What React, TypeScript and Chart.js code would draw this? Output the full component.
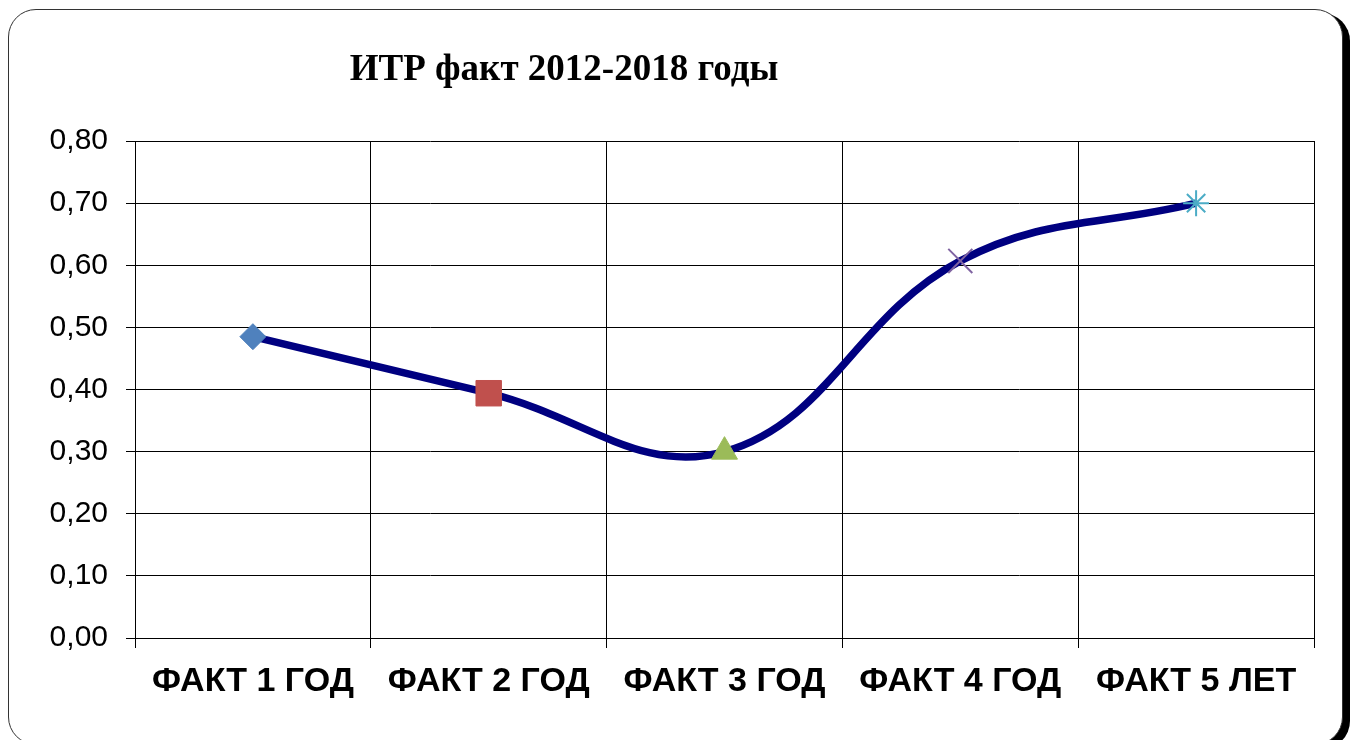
import React, { useEffect, useRef } from "react";
import { Chart, registerables } from "chart.js";

Chart.register(...registerables);

const titleText = "ИТР факт 2012-2018 годы";
const categories = ["ФАКТ 1 ГОД", "ФАКТ 2 ГОД", "ФАКТ 3 ГОД", "ФАКТ 4 ГОД", "ФАКТ 5 ЛЕТ"];
const values = [0.485, 0.394, 0.3, 0.607, 0.7];
const yTicks = [0, 0.1, 0.2, 0.3, 0.4, 0.5, 0.6, 0.7, 0.8];

const markerStyles = ["rectRot", "rect", "triangle", "crossRot", "star"];
const markerColors = ["#4F81BD", "#C0504D", "#9BBB59", "#8064A2", "#4BACC6"];
const markerRadii = [13, 18, 15, 17, 13];

const titlePlugin = {
  id: "customTitle",
  afterDraw(chart: any) {
    const ctx = chart.ctx;
    ctx.save();
    ctx.font = "bold 37px 'Liberation Serif', 'Times New Roman', serif";
    ctx.fillStyle = "#000";
    ctx.textAlign = "center";
    ctx.textBaseline = "alphabetic";
    ctx.fillText(titleText, 564, 80);
    ctx.restore();
  },
};

export default function App() {
  const ref = useRef<HTMLCanvasElement | null>(null);

  useEffect(() => {
    if (!ref.current) return;
    const chart = new Chart(ref.current, {
      type: "line",
      data: {
        labels: categories,
        datasets: [
          {
            data: values,
            borderColor: "#000080",
            borderWidth: 7.5,
            tension: 0.4,
            fill: false,
            pointStyle: markerStyles as any,
            pointRadius: markerRadii,
            pointBackgroundColor: markerColors,
            pointBorderColor: markerColors,
            pointBorderWidth: [1, 1, 1, 2, 2],
          },
        ],
      },
      options: {
        responsive: false,
        animation: false,
        layout: { padding: { top: 141, right: 38, bottom: 22, left: 0 } },
        plugins: {
          legend: { display: false },
          title: { display: false },
          tooltip: { enabled: false },
        },
        scales: {
          x: {
            offset: true,
            grid: {
              offset: true,
              color: "#000",
              lineWidth: 1,
              drawTicks: true,
              tickLength: 10,
            },
            border: { color: "#000", width: 1 },
            ticks: {
              color: "#000",
              padding: 13,
              maxRotation: 0,
              autoSkip: false,
              font: { family: "'Liberation Sans', Arial, sans-serif", size: 34, weight: "bold" },
            },
            afterFit(scale: any) {
              scale.height = 80;
            },
          },
          y: {
            min: 0,
            max: 0.8,
            afterBuildTicks(scale: any) {
              scale.ticks = yTicks.map((v) => ({ value: v }));
            },
            grid: {
              color: "#000",
              lineWidth: 1,
              drawTicks: true,
              tickLength: 9,
            },
            border: { color: "#000", width: 1 },
            ticks: {
              color: "#000",
              padding: 18,
              font: { family: "'Liberation Sans', Arial, sans-serif", size: 30 },
              callback: (v: any) => Number(v).toFixed(2).replace(".", ","),
            },
            afterFit(scale: any) {
              scale.width = 135;
            },
          },
        },
      },
      plugins: [titlePlugin],
    });
    return () => chart.destroy();
  }, []);

  return (
    <div>
      <div
        style={{
          position: "absolute",
          left: 8,
          top: 9,
          width: 1335,
          height: 736,
          border: "1px solid #333",
          borderRadius: 28,
          boxShadow: "7px 4px 0 #000",
          background: "#fff",
          boxSizing: "border-box",
        }}
      />
      <canvas
        ref={ref}
        width={1352}
        height={740}
        style={{ position: "absolute", left: 0, top: 0, width: 1352, height: 740 }}
      />
    </div>
  );
}
